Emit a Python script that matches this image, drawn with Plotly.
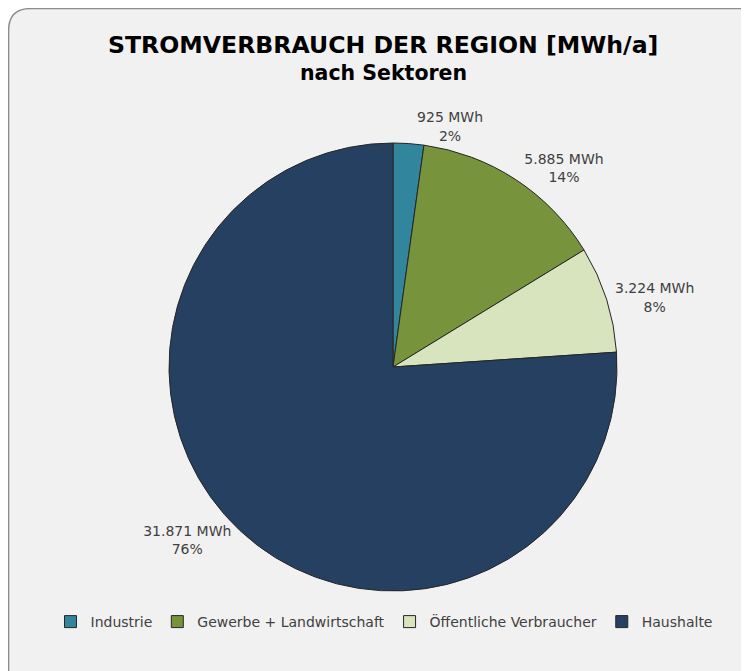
import plotly.graph_objects as go

sectors = ["Industrie", "Gewerbe + Landwirtschaft", "Öffentliche Verbraucher", "Haushalte"]
consumption_mwh = [925, 5885, 3224, 31871]
colors = ["#31859C", "#77933C", "#D7E4BD", "#254061"]

W, H = 749, 671
OFF = 8  # page body margin offset
FONT = "DejaVu Sans"

cx, cy, r = 393 - OFF, 367 - OFF, 224

def px(x):
    return (x - OFF) / W

def py(y):
    return 1 - (y - OFF) / H

fig = go.Figure(go.Pie(
    labels=sectors,
    values=consumption_mwh,
    sort=False,
    direction="clockwise",
    rotation=0,
    marker=dict(colors=colors, line=dict(color="#262626", width=1)),
    textposition="outside",
    texttemplate="%{value:,.0f} MWh<br>%{percent:.0%}",
    textfont=dict(family=FONT, size=14, color="#404040"),
    domain=dict(x=[(cx - r) / W, (cx + r) / W], y=[1 - (cy + r) / H, 1 - (cy - r) / H]),
    hoverinfo="label+value+percent",
))

fig.update_layout(
    width=W, height=H,
    margin=dict(l=0, r=0, t=0, b=0),
    separators=",.",
    paper_bgcolor="white",
    plot_bgcolor="white",
    font=dict(family=FONT, color="#404040"),
    showlegend=True,
    legend=dict(
        orientation="h", x=px(384), xanchor="center", y=py(622), yanchor="middle",
        font=dict(family=FONT, size=14, color="#404040"),
        bgcolor="rgba(0,0,0,0)", traceorder="normal",
        itemwidth=30, tracegroupgap=0,
    ),
    annotations=[
        dict(text="<b>STROMVERBRAUCH DER REGION [MWh/a]</b>", x=px(383), y=py(45),
             xref="paper", yref="paper", showarrow=False,
             font=dict(family=FONT, size=23.6, color="#000000"), xanchor="center", yanchor="middle"),
        dict(text="<b>nach Sektoren</b>", x=px(383), y=py(73),
             xref="paper", yref="paper", showarrow=False,
             font=dict(family=FONT, size=20.5, color="#000000"), xanchor="center", yanchor="middle"),
    ],
)

# rounded chart-area border (extends past right/bottom edges)
x0, y0 = 0.6 / W, 1 - 0.6 / H
x1, y1 = 1.02, -0.02
rx, ry = 22 / W, 22 / H
path = (f"M {x0},{y1} L {x0},{y0 - ry} Q {x0},{y0} {x0 + rx},{y0} "
        f"L {x1 - rx},{y0} Q {x1},{y0} {x1},{y0 - ry} L {x1},{y1} Z")
fig.add_shape(type="path", path=path, xref="paper", yref="paper",
              fillcolor="#F1F1F1", line=dict(color="#8C8C8C", width=1.5), layer="below")

fig.write_html("out.html")
